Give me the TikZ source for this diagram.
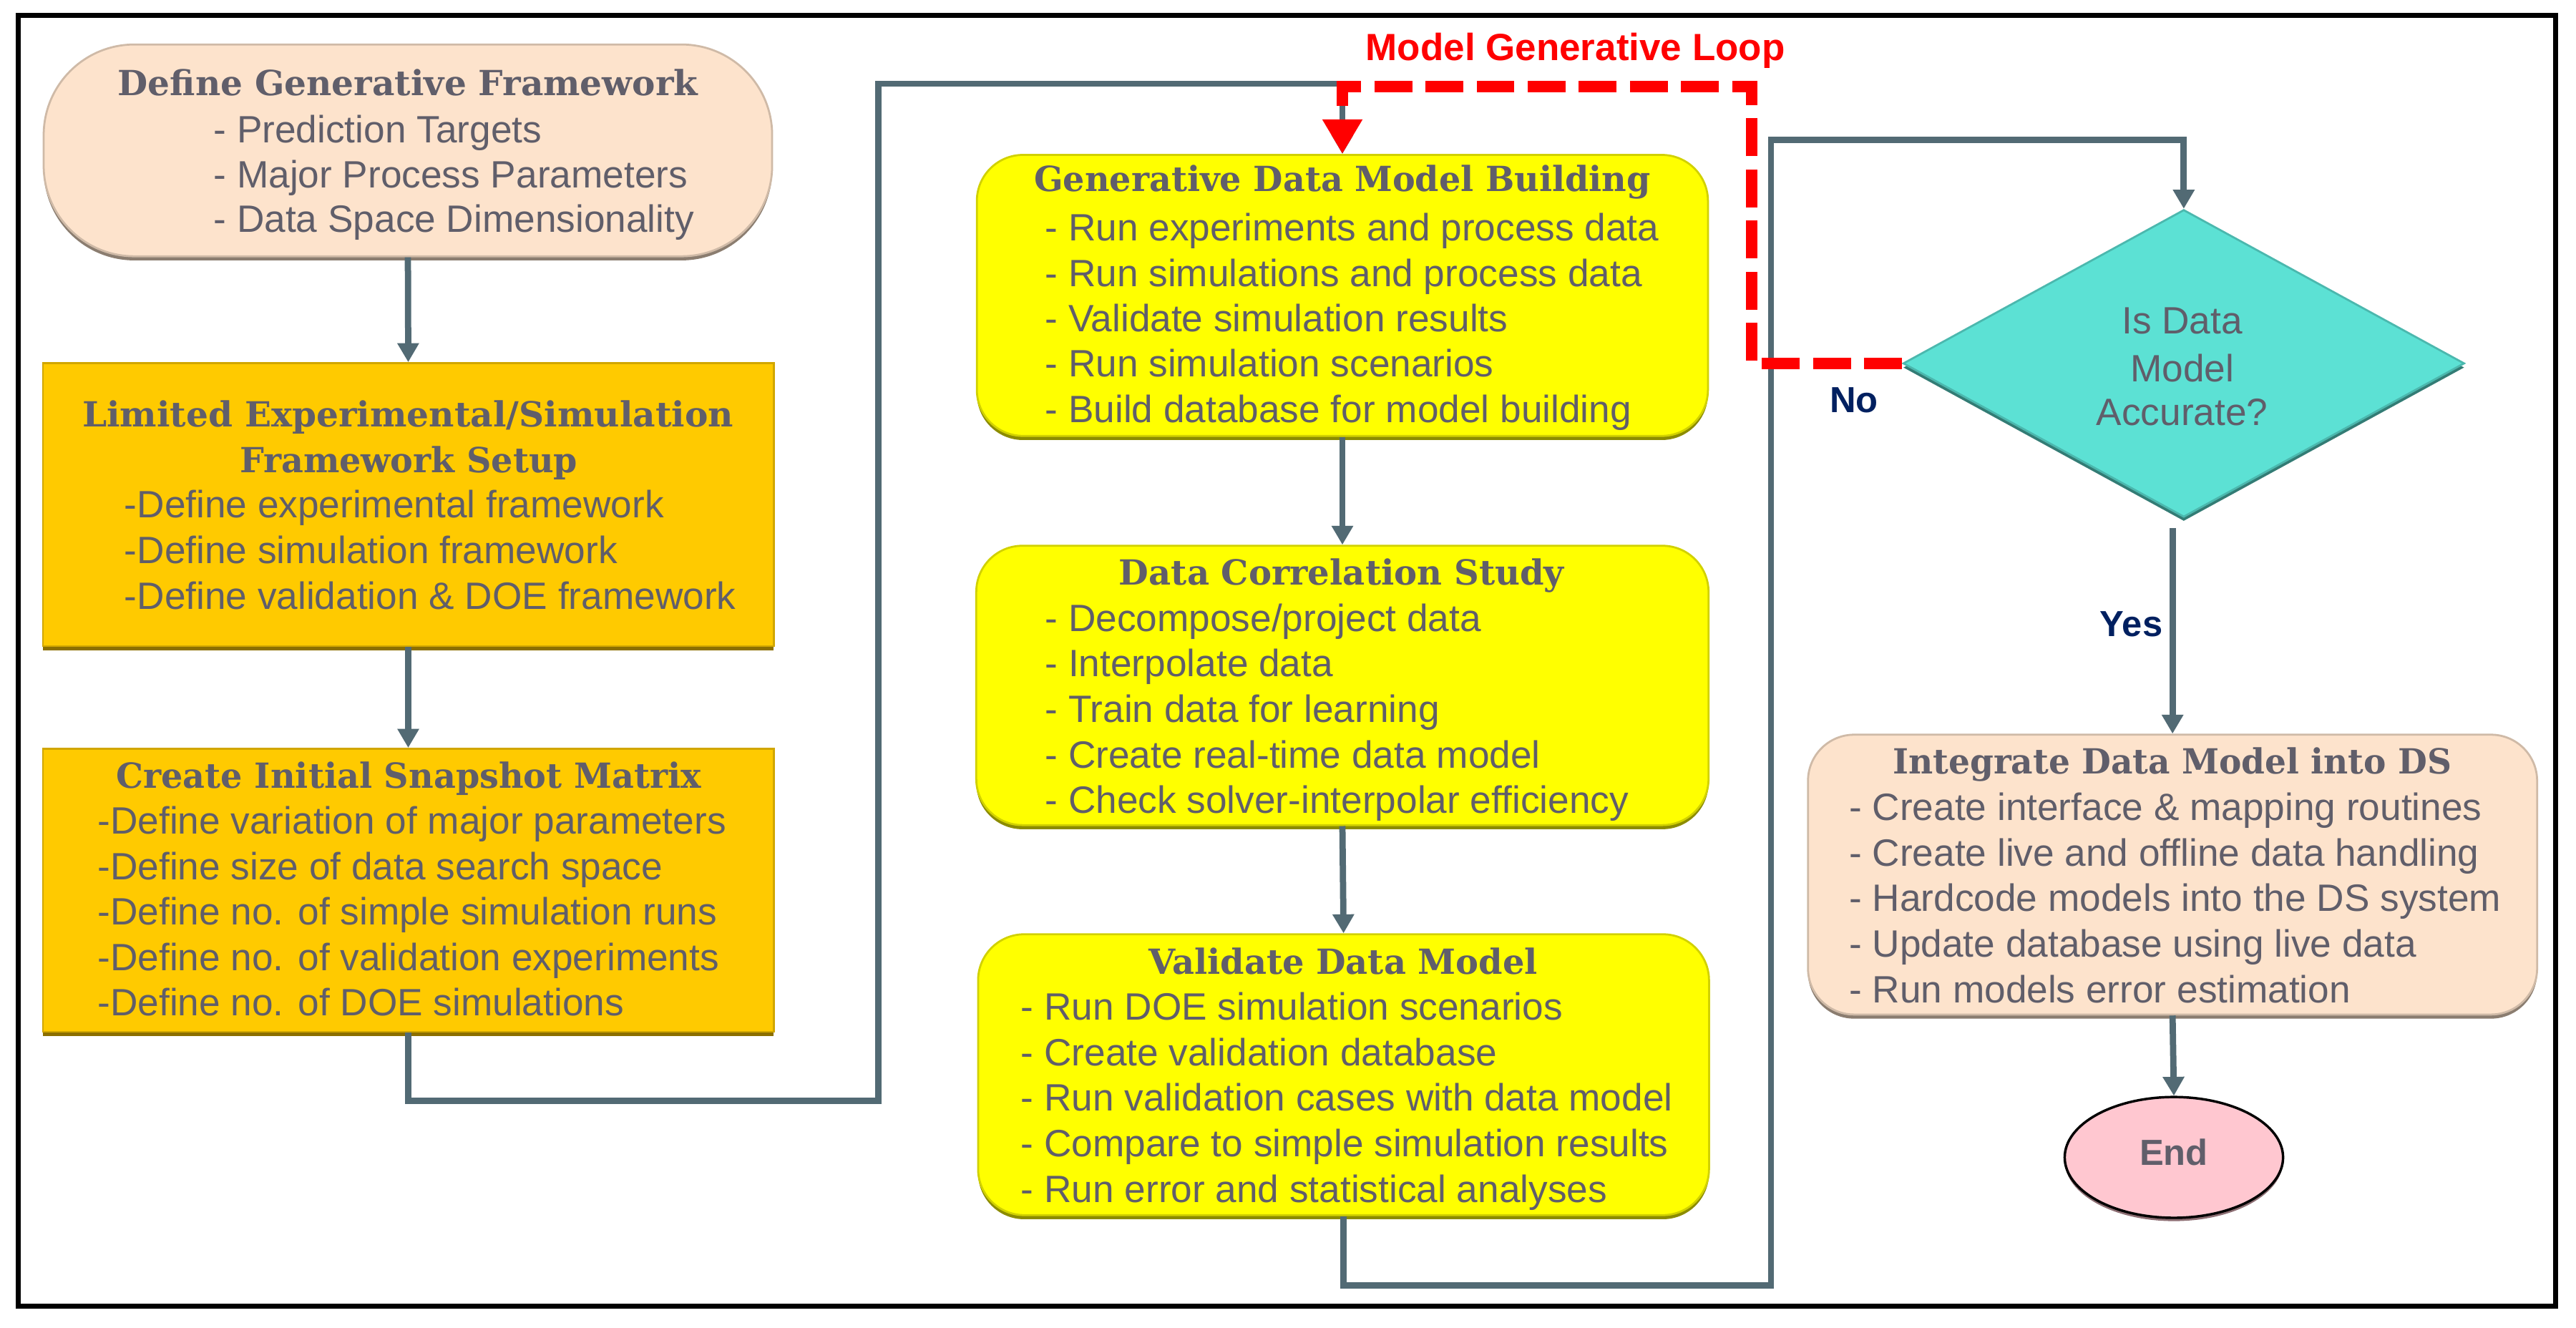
\documentclass[tikz,border=0pt]{standalone}
\usepackage{fontspec}
\setmainfont{Liberation Sans}
\newfontfamily\slabfont{DejaVu Serif}
\usepackage{graphicx}
\usetikzlibrary{arrows.meta,shapes.geometric}
\definecolor{txt}{RGB}{96,94,106}
\definecolor{peach}{RGB}{253,227,204}
\definecolor{gold}{RGB}{255,202,0}
\definecolor{yel}{RGB}{255,255,0}
\definecolor{turq}{RGB}{92,225,212}
\definecolor{pinkc}{RGB}{255,199,208}
\definecolor{conn}{RGB}{82,106,116}
\definecolor{navy}{RGB}{0,32,96}
\newcommand\ttlfit[2]{\resizebox{#1pt}{\height}{#2}}
\newcommand\bodylines[5]{\foreach \bl [count=\i] in {#5}{\node[body] (#1\i) at ({#2},{#3+#4*(\i-1)}) {\bl};}}
\tikzset{
  bev/.style={fill=#1, draw=#1!82!black, line width=1.2pt,
    preaction={fill=#1!55!black, transform canvas={yshift=-2.5pt}}},
  boxr/.style={rectangle, inner sep=0pt},
  body/.style={anchor=base west, inner sep=0pt, text=txt, font=\fontsize{23.1}{27}\selectfont},
  ttl/.style={anchor=base, inner sep=0pt, text=txt, font=\fontsize{21}{24}\selectfont\slabfont\bfseries},
  connl/.style={draw=conn, line width=3.8pt, -{Triangle[width=12.5pt,length=11.5pt]}},
  redloop/.style={draw=red, line width=7pt, dash pattern=on 23pt off 8pt, -{Triangle[width=23pt,length=21pt]}},
  lbl/.style={anchor=base west, inner sep=0pt, font=\bfseries\fontsize{22}{26}\selectfont, text=navy}
}
\begin{document}
\begin{tikzpicture}[x=1pt,y=-1pt]
\useasboundingbox (0,0) rectangle (1563,805.4);
\fill[white] (0,0) rectangle (1563,805.4);
\draw[line width=3pt] (11,9.5) rectangle (1550.5,792.5);

% boxes
\node[boxr, bev=peach, rounded corners=55pt, minimum width=442pt, minimum height=128.5pt] (b1) at (247.5,91.25) {};
\node[boxr, bev=gold, minimum width=443.4pt, minimum height=171.7pt] (b2) at (247.7,306.2) {};
\node[boxr, bev=gold, minimum width=443.4pt, minimum height=171.7pt] (b3) at (247.7,540.2) {};
\node[boxr, bev=yel, rounded corners=28pt, minimum width=443.6pt, minimum height=170.5pt] (b4) at (814.5,179.25) {};
\node[boxr, bev=yel, rounded corners=28pt, minimum width=444.3pt, minimum height=169.5pt] (b5) at (814.5,415.9) {};
\node[boxr, bev=yel, rounded corners=28pt, minimum width=443.5pt, minimum height=170.4pt] (b6) at (815.2,652.1) {};
\node[boxr, bev=peach, rounded corners=28pt, minimum width=442.4pt, minimum height=169.8pt] (b7) at (1318.2,530.7) {};
\node[diamond, bev=turq, inner sep=0pt, minimum width=340.6pt, minimum height=186.5pt] (dia) at (1325,220.5) {};
\node[ellipse, fill=pinkc, draw=black, line width=1.5pt, inner sep=0pt, minimum width=132.5pt, minimum height=73.3pt,
  preaction={fill=pinkc!55!black, transform canvas={yshift=-2pt}}] (endn) at (1319,702.3) {};

% connectors
\draw[connl] (b1.south) -- (b2.north);
\draw[connl] (b2.south) -- (b3.north);
\coordinate (c1) at (533,668);
\coordinate (c2) at (533,50.8);
\draw[connl] (b3.south) |- (c1) -- (c2) -| (b4.north);
\draw[connl] (b4.south) -- (b5.north);
\draw[connl] (b5.south) -- (b6.north);
\coordinate (c3) at (1074.5,780);
\coordinate (c4) at (1074.5,85);
\draw[connl] (b6.south) |- (c3) -- (c4) -| (dia.north);
\draw[connl] ([yshift=-6pt]dia.south -| b7.north) -- (b7.north);
\draw[connl] (b7.south) -- (endn.north);

% red loop
\coordinate (r1) at (1062.8,220.5);
\coordinate (r2) at (1062.8,52.7);
\draw[redloop] (dia.west) -- (r1) -- (r2) -| (b4.north);
\node[anchor=base west, inner sep=0pt, text=red, font=\bfseries\fontsize{23}{27}\selectfont] (loopl) at (828.5,36.8) {Model Generative Loop};

% titles
\node[ttl] (t1) at (247.5,57.9) {\ttlfit{352}{Define Generative Framework}};
\node[ttl] (t2a) at (247.5,258.8) {\ttlfit{395}{Limited Experimental/Simulation}};
\node[ttl] (t2b) at (248,286.6) {\ttlfit{205}{Framework Setup}};
\node[ttl] (t3) at (248,478.4) {\ttlfit{355}{Create Initial Snapshot Matrix}};
\node[ttl] (t4) at (814.5,116.3) {\ttlfit{374}{Generative Data Model Building}};
\node[ttl] (t5) at (814,355.1) {\ttlfit{270}{Data Correlation Study}};
\node[ttl] (t6) at (815,591.2) {\ttlfit{236}{Validate Data Model}};
\node[ttl] (t7) at (1318,469.6) {\ttlfit{339}{Integrate Data Model into DS}};

% body lines
\bodylines{l1-}{129.5}{86.8}{27.15}{{- Prediction Targets},{- Major Process Parameters},{- Data Space Dimensionality}}
\bodylines{l2-}{75.3}{314.1}{27.85}{{-Define experimental framework},{-Define simulation framework},{-Define validation \& DOE framework}}
\bodylines{l3-}{59.1}{506.1}{27.55}{{-Define variation of major parameters},{-Define size of data search space},{-Define no. of simple simulation runs},{-Define no. of validation experiments},{-Define no. of DOE simulations}}
\bodylines{l4-}{634}{146.2}{27.5}{{- Run experiments and process data},{- Run simulations and process data},{- Validate simulation results},{- Run simulation scenarios},{- Build database for model building}}
\bodylines{l5-}{634}{383}{27.65}{{- Decompose/project data},{- Interpolate data},{- Train data for learning},{- Create real-time data model},{- Check solver-interpolar efficiency}}
\bodylines{l6-}{619.3}{619}{27.6}{{- Run DOE simulation scenarios},{- Create validation database},{- Run validation cases with data model},{- Compare to simple simulation results},{- Run error and statistical analyses}}
\bodylines{l7-}{1121.8}{497.9}{27.6}{{- Create interface \& mapping routines},{- Create live and offline data handling},{- Hardcode models into the DS system},{- Update database using live data},{- Run models error estimation}}

% diamond text
\node[anchor=base, inner sep=0pt, text=txt, font=\fontsize{23.1}{27}\selectfont] (d1) at (1324,202.6) {Is Data};
\node[anchor=base, inner sep=0pt, text=txt, font=\fontsize{23.1}{27}\selectfont] (d2) at (1324,231.5) {Model};
\node[anchor=base, inner sep=0pt, text=txt, font=\fontsize{23.1}{27}\selectfont] (d3) at (1324,258) {Accurate?};

% labels
\node[lbl] (no) at (1110,250.4) {No};
\node[lbl] (yes) at (1274,386) {Yes};
\node[anchor=base, inner sep=0pt, text=txt, font=\bfseries\fontsize{22}{26}\selectfont] (endt) at (1319,707) {End};
\end{tikzpicture}
\end{document}
